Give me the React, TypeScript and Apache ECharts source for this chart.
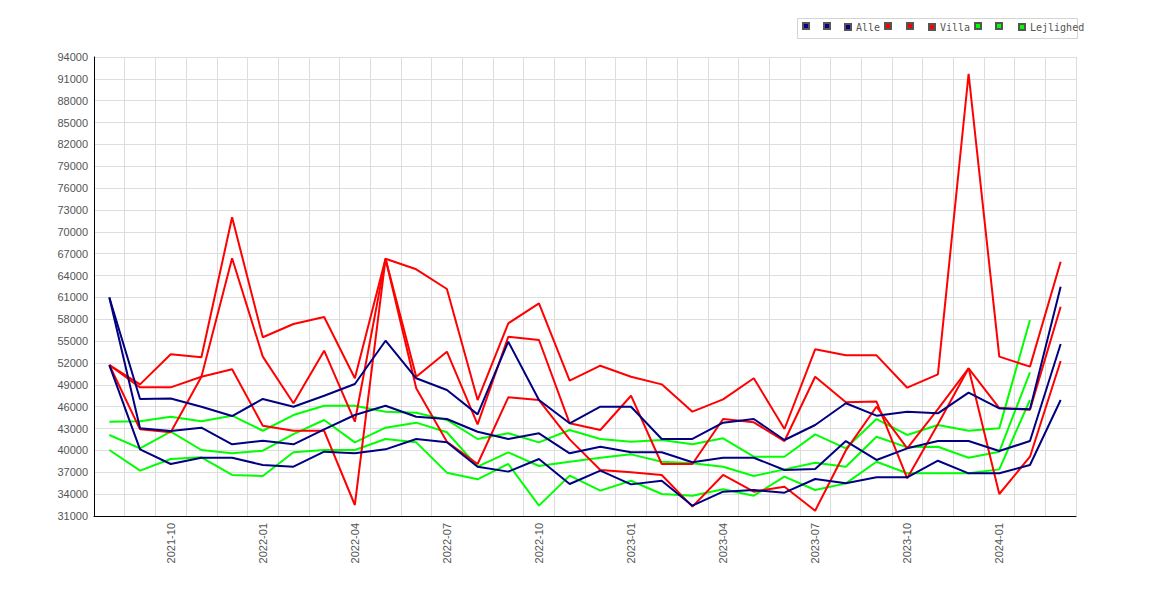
import React, { useEffect, useRef } from "react";
import * as echarts from "echarts";

const months = [
  "2021-08", "2021-09", "2021-10", "2021-11", "2021-12",
  "2022-01", "2022-02", "2022-03", "2022-04", "2022-05", "2022-06",
  "2022-07", "2022-08", "2022-09", "2022-10", "2022-11", "2022-12",
  "2023-01", "2023-02", "2023-03", "2023-04", "2023-05", "2023-06",
  "2023-07", "2023-08", "2023-09", "2023-10", "2023-11", "2023-12",
  "2024-01", "2024-02", "2024-03",
];

const alleA = [
  61000, 47060, 47120, 46000, 44720, 47060, 46000, 47510, 49120, 55060, 49900,
  48290, 44950, 54920, 46920, 43720, 46000, 46000, 41570, 41570, 43810, 44310,
  41430, 43490, 46470, 44770, 45320, 45090, 47930, 45780, 45640, 62470,
];
const alleB = [
  61000, 43030, 42670, 43120, 40840, 41340, 40840, 42890, 44860, 46140, 44630,
  44310, 42570, 41570, 42350, 39600, 40510, 39740, 39740, 38370, 39000, 39000,
  37310, 37450, 41290, 38690, 40290, 41290, 41290, 39920, 41290, 54600,
];
const alleC = [
  51720, 40150, 38140, 39000, 39000, 38000, 37770, 39830, 39600, 40150, 41570,
  41110, 37770, 37090, 38820, 35390, 37220, 35340, 35840, 32420, 34340, 34570,
  34200, 36080, 35490, 36310, 36310, 38590, 36860, 36860, 38000, 46920,
];

const villaA = [
  51720, 49070, 53190, 52780, 72000, 55530, 57350, 58310, 49900, 66300, 64860,
  62160, 46920, 57440, 60190, 49570, 51630, 50120, 49070, 45320, 47010, 49900,
  42940, 53880, 53050, 53050, 48610, 50450, 91700, 52870, 51500, 65900,
];
const villaB = [
  51720, 48660, 48660, 50120, 51130, 43390, 42700, 42700, 32510, 66300, 50120,
  53550, 43580, 55600, 55160, 43720, 42800, 47510, 38140, 38140, 44310, 43860,
  41290, 50120, 46610, 46700, 36170, 43590, 51270, 45800, 45600, 59730,
];
const villaC = [
  51720, 42890, 42490, 50120, 66370, 52870, 46470, 53690, 43940, 66300, 48520,
  41200, 38140, 47290, 46920, 41520, 37310, 36990, 36630, 32280, 36630, 34340,
  35020, 31730, 40000, 46000, 40290, 45680, 51270, 34020, 39140, 52280,
];

const lejA = [
  43940, 44000, 44630, 44000, 44770, 42700, 44860, 46140, 46140, 45320, 45180,
  44180, 41570, 42350, 41110, 42800, 41570, 41200, 41430, 40840, 41660, 39140,
  39140, 42210, 40290, 44310, 42120, 43490, 42700, 43030, 57900, null,
];
const lejB = [
  42120, 40290, 42570, 40060, 39600, 39960, 42250, 44180, 41110, 43120, 43810,
  42490, 37770, 39740, 37860, 38450, 39000, 39460, 38450, 38230, 37770, 36490,
  37400, 38320, 37770, 41880, 40420, 40510, 39000, 39830, 50720, null,
];
const lejC = [
  40060, 37220, 38820, 39050, 36630, 36490, 39740, 40060, 40060, 41570, 41110,
  36950, 36040, 38140, 32420, 36540, 34480, 35840, 34020, 33790, 34660, 33790,
  36400, 34570, 35480, 38450, 36860, 36860, 36860, 37400, 46920, null,
];

const legendNames = [
  "Alle ·1", "Alle ·2", "Alle",
  "Villa ·1", "Villa ·2", "Villa",
  "Lejlighed ·1", "Lejlighed ·2", "Lejlighed",
];
const legendLefts = [802, 823, 844, 884, 906, 928, 974, 995, 1018];

const BLUE = "#000080";
const RED = "#ff0000";
const GREEN = "#00ff00";

function line(name: string, data: (number | null)[], color: string, z: number) {
  return {
    name,
    type: "line",
    data,
    color,
    z,
    showSymbol: false,
    symbol: "none",
    lineStyle: { color, width: 2 },
    itemStyle: { color, borderColor: "#555", borderWidth: 1 },
  };
}

export default function App() {
  const ref = useRef<HTMLDivElement>(null);
  useEffect(() => {
    const chart = echarts.init(ref.current!, null, { renderer: "svg" });
    const legends = legendNames.map((n, i) => ({
      data: [n],
      left: legendLefts[i],
      top: 22,
      orient: "horizontal",
      icon: "rect",
      itemWidth: 6,
      itemHeight: 6,
      itemGap: 0,
      padding: 0,
      borderWidth: 0,
      selectedMode: false,
      z: 5,
      formatter: (name: string) => (name.indexOf("·") >= 0 ? "" : name),
      textStyle: {
        fontFamily: "DejaVu Sans Mono",
        fontSize: 10,
        color: "#555555",
      },
    }));
    chart.setOption({
      animation: false,
      backgroundColor: "#ffffff",
      graphic: [
        {
          type: "rect",
          left: 797,
          top: 18,
          shape: { width: 280, height: 20 },
          style: { fill: "#ffffff", stroke: "#d4d4d4", lineWidth: 1 },
          z: 0,
        },
      ],
      legend: legends,
      grid: {
        left: 94,
        right: 94,
        top: 57,
        bottom: 84,
        containLabel: false,
        outerBoundsMode: "none",
      },
      xAxis: {
        type: "category",
        data: months,
        boundaryGap: true,
        axisLine: { onZero: false, lineStyle: { color: "#000000", width: 1 } },
        axisTick: { show: false },
        axisLabel: {
          interval: (i: number) => i % 3 === 2,
          rotate: 90,
          margin: 7,
          fontFamily: "Liberation Sans",
          fontSize: 11,
          color: "#555555",
        },
        splitLine: { show: true, interval: 0, lineStyle: { color: "#dddddd", width: 1 } },
      },
      yAxis: {
        type: "value",
        min: 31000,
        max: 94000,
        interval: 3000,
        axisLine: { show: true, lineStyle: { color: "#000000", width: 1 } },
        axisTick: { show: false },
        axisLabel: {
          margin: 6,
          fontFamily: "Liberation Sans",
          fontSize: 11,
          color: "#555555",
          formatter: (v: number) => String(v),
        },
        splitLine: { show: true, lineStyle: { color: "#dddddd", width: 1 } },
      },
      series: [
        line(legendNames[6], lejA, GREEN, 2),
        line(legendNames[7], lejB, GREEN, 2),
        line(legendNames[8], lejC, GREEN, 2),
        line(legendNames[3], villaA, RED, 3),
        line(legendNames[4], villaB, RED, 3),
        line(legendNames[5], villaC, RED, 3),
        line(legendNames[0], alleA, BLUE, 4),
        line(legendNames[1], alleB, BLUE, 4),
        line(legendNames[2], alleC, BLUE, 4),
      ],
    });
    return () => chart.dispose();
  }, []);
  return (
    <div
      ref={ref}
      style={{ position: "fixed", left: 0, top: 0, width: 1170, height: 600, background: "#fff" }}
    />
  );
}
